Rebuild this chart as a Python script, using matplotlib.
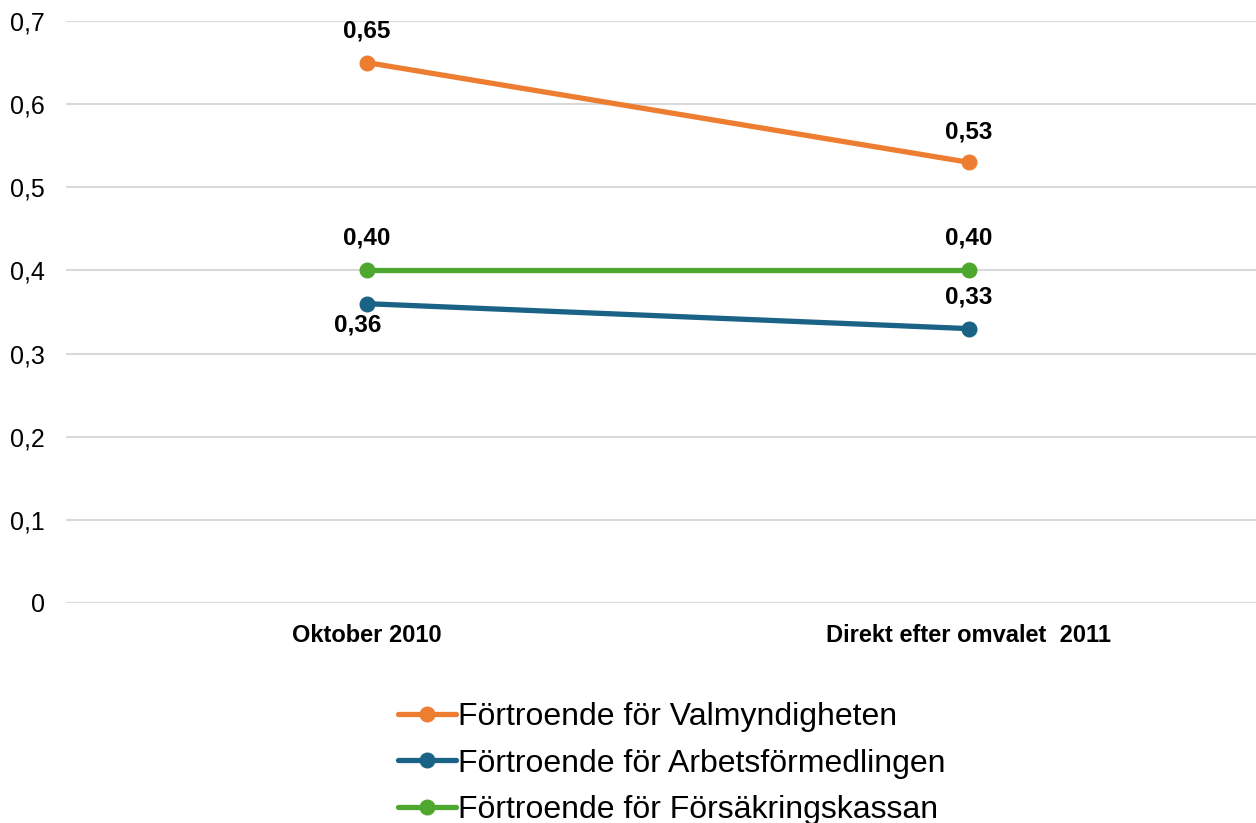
import matplotlib.pyplot as plt
from matplotlib.ticker import FuncFormatter

plt.rcParams['font.family'] = ['Liberation Sans', 'DejaVu Sans']

# data
categories = ['Oktober 2010', 'Direkt efter omvalet  2011']
valmyndigheten = [0.65, 0.53]
arbetsformedlingen = [0.36, 0.33]
forsakringskassan = [0.40, 0.40]
series_names = ['Förtroende för Valmyndigheten',
                'Förtroende för Arbetsförmedlingen',
                'Förtroende för Försäkringskassan']
colors = ['#ED7D31', '#1A6386', '#4EA72E']

fig = plt.figure(figsize=(12.56, 8.23), dpi=100)
ax = fig.add_axes([66 / 1256, 1 - 603 / 823, 1204 / 1256, (603 - 21) / 823])

x = [0, 1]
all_series = [valmyndigheten, arbetsformedlingen, forsakringskassan]
for vals, name, c in zip(all_series, series_names, colors):
    ax.plot(x, vals, '-o', color=c, lw=3.8, ms=10.5, label=name,
            solid_capstyle='round', zorder=3)

# data labels (offsets in points)
def lab(xi, y, dy, dx=0):
    ax.annotate(f'{y:.2f}'.replace('.', ','), (xi, y), xytext=(dx, dy),
                textcoords='offset points', ha='center', va='center',
                fontsize=17.5, fontweight='bold')

lab(0, valmyndigheten[0], 23)
lab(1, valmyndigheten[1], 22)
lab(0, forsakringskassan[0], 23)
lab(1, forsakringskassan[1], 23)
lab(0, arbetsformedlingen[0], -15, -7)
lab(1, arbetsformedlingen[1], 23)

ax.set_xlim(-0.5, 1.5)
ax.set_ylim(0, 0.7)
ax.set_yticks([i / 10 for i in range(8)])
ax.yaxis.set_major_formatter(FuncFormatter(lambda v, p: '0' if v == 0 else f'{v:.1f}'.replace('.', ',')))
ax.set_xticks(x)
ax.set_xticklabels(categories, fontsize=17, fontweight='bold')
ax.tick_params(axis='y', length=0, labelsize=18, pad=15)
ax.tick_params(axis='x', length=0, pad=15)
ax.grid(axis='y', color='#D9D9D9', lw=1.5)
ax.set_axisbelow(True)
for s in ax.spines.values():
    s.set_visible(False)

# legend sits low, last row is partly clipped like in the original
fig.legend(loc='upper center', bbox_to_anchor=(0.535, 0.166), frameon=False,
           fontsize=23, handlelength=1.8, handletextpad=0.08, labelspacing=0.51,
           borderpad=0)

fig.savefig('out.png', dpi=100)
